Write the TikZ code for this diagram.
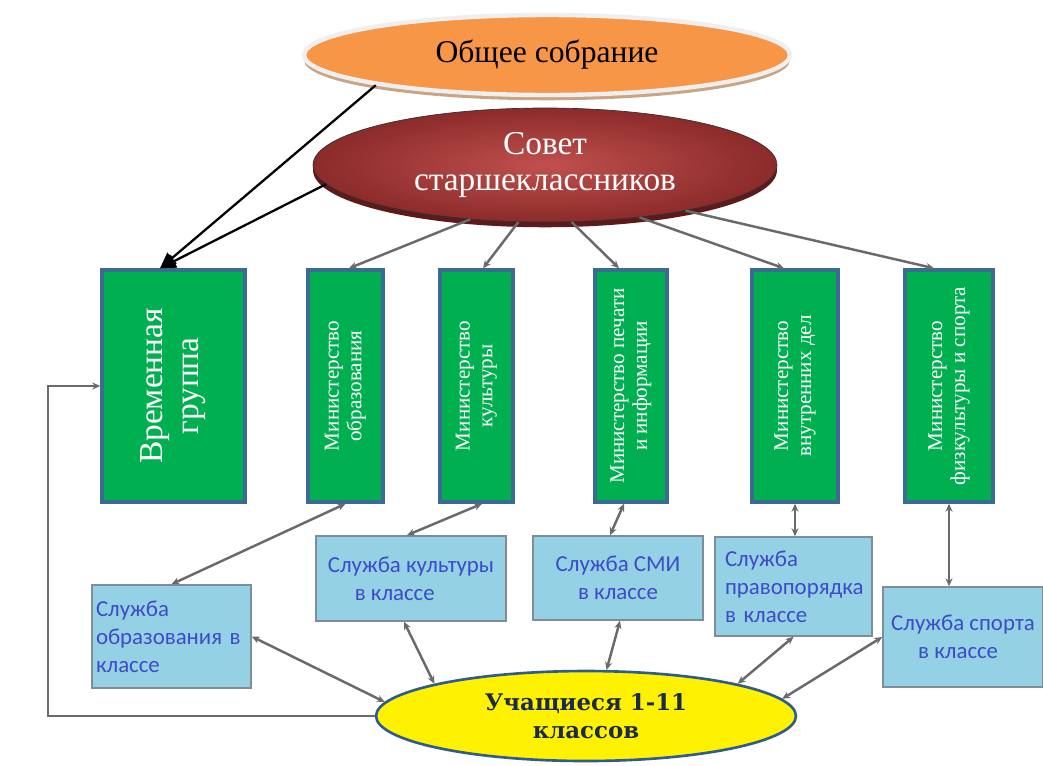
\documentclass[tikz,border=0pt]{standalone}
\usepackage{fontspec}
\setmainfont{Liberation Serif}
\setsansfont{Carlito}
\newfontfamily\slabfont{DejaVu Serif}
\usetikzlibrary{arrows.meta,shadows,calc,shapes.geometric}
\definecolor{gfill}{HTML}{00B050}
\definecolor{gborder}{HTML}{3B6A94}
\definecolor{sfill}{HTML}{94D1E4}
\definecolor{sborder}{HTML}{7E8E96}
\definecolor{stext}{HTML}{3D4BC8}
\definecolor{lgray}{HTML}{6A6A6A}
\definecolor{ofill}{HTML}{F79646}
\definecolor{orim}{HTML}{EFEFEF}
\definecolor{otan}{HTML}{C9A584}
\definecolor{rinner}{HTML}{C0504D}
\definecolor{router}{HTML}{8B2B2A}
\definecolor{rshadow}{HTML}{5C1A1A}
\definecolor{yborder}{HTML}{2E5C8E}
\definecolor{ytext}{HTML}{1B2A4A}
\newcommand{\vtext}[1]{\rotatebox{90}{\begin{tabular}{@{}c@{}}#1\end{tabular}}}
\begin{document}
\begin{tikzpicture}[x=0.02cm, y=-0.02cm,
    >={Stealth[length=4.5pt,width=4pt]},
    gbox/.style={draw=gborder, line width=2pt, fill=gfill, text=white,
      minimum height=4.64cm, inner sep=0pt, font=\rmfamily\fontsize{12}{13}\selectfont},
    sbox/.style={draw=sborder, line width=0.9pt, fill=sfill, text=stext,
      inner sep=0pt, font=\sffamily\fontsize{13}{16}\selectfont},
    gline/.style={draw=lgray, line width=1.4pt},
    blackarrow/.style={draw=black, line width=1.3pt, -{Triangle[length=9pt,width=8pt]}}]
  \fill[white] (0,0) rectangle (1043,765);
  \useasboundingbox (0,0) rectangle (1043,765);

  % top ellipses
  \node[ellipse, fill=ofill, draw=orim, line width=2.5pt, inner sep=0pt,
    minimum width=9.72cm, minimum height=1.6cm,
    drop shadow={shadow xshift=0pt, shadow yshift=-3pt, fill=otan, opacity=1},
    font=\fontsize{18}{20}\selectfont] (sobranie) at (547,55) {Общее собрание};
  \node[ellipse, shading=radial, inner color=rinner, outer color=router,
    draw=black!80, inner sep=0pt, minimum width=9.28cm, minimum height=2.28cm,
    drop shadow={shadow xshift=0pt, shadow yshift=-3pt, fill=rshadow, opacity=1},
    text=white, align=center, font=\fontsize{19}{20.5}\selectfont]
    (sovet) at (545,165) {Совет\\старшеклассников};

  % ministries
  \node[gbox, minimum width=2.86cm, font=\rmfamily\fontsize{19}{20.5}\selectfont]
    (vremgr) at (173.5,386) {\vtext{Временная\\группа}};
  \node[gbox, minimum width=1.5cm] (minobr) at (345.5,386) {\vtext{Министерство\\образования}};
  \node[gbox, minimum width=1.46cm] (minkult) at (476.5,386) {\vtext{Министерство\\культуры}};
  \node[gbox, minimum width=1.44cm] (minpech) at (631,386) {\vtext{Министерство печати\\и информации}};
  \node[gbox, minimum width=1.72cm] (minvd) at (795,386) {\vtext{Министерство\\внутренних дел}};
  \node[gbox, minimum width=1.76cm] (minsport) at (949,386) {\vtext{Министерство\\физкультуры и спорта}};

  % class services
  \node[sbox, minimum width=3.18cm, minimum height=2.06cm, align=left,
    text width=3.02cm] (sluobr) at (171.5,636.5) {Служба\\образования в\\классе};
  \node[sbox, minimum width=3.8cm, minimum height=1.7cm, align=left]
    (slukult) at (411,578.5) {Служба культуры\\\hspace*{0.54cm}в классе};
  \node[sbox, minimum width=3.4cm, minimum height=1.68cm, align=center]
    (slusmi) at (618,578) {Служба СМИ\\в классе};
  \node[sbox, minimum width=3.14cm, minimum height=1.98cm, align=left,
    text width=2.74cm] (slupravo) at (793.5,586.5) {Служба\\правопорядка\\в классе};
  \node[sbox, minimum width=3.2cm, minimum height=2.0cm, align=left]
    (sluspor) at (963,637) {Служба спорта\\\hspace*{0.54cm}в классе};

  % pupils
  \node[ellipse, fill=yellow, draw=yborder, line width=1.5pt, inner sep=0pt,
    minimum width=8.4cm, minimum height=1.8cm, text=ytext, align=center,
    font=\slabfont\bfseries\fontsize{13}{16}\selectfont]
    (uch) at (586,716) {Учащиеся 1-11\\классов};

  % arrows from the top
  \draw[blackarrow] (sobranie.190) -- ([xshift=-0.27cm]vremgr.north);
  \draw[blackarrow] (sovet.185) -- ([xshift=-0.27cm]vremgr.north);
  \draw[gline,->] (sovet.216) -- ([xshift=0.07cm]minobr.north);
  \draw[gline,->] (sovet.245) -- ([xshift=0.13cm]minkult.north);
  \draw[gline,->] (sovet.295) -- ([xshift=-0.24cm]minpech.north);
  \draw[gline,->] (sovet.331) -- ([xshift=-0.22cm]minvd.north);
  \draw[gline,->] (sovet.342) -- ([xshift=-0.3cm]minsport.north);

  % ministries and services
  \draw[gline,<->] (minobr.south) -- (sluobr.north);
  \draw[gline,<->] ([xshift=0.11cm]minkult.south) -- ([xshift=-0.08cm]slukult.north);
  \draw[gline,<->] ([xshift=-0.14cm]minpech.south) -- ([xshift=-0.16cm]slusmi.north);
  \draw[gline,<->] (minvd.south) -- (minvd.south |- slupravo.north);
  \draw[gline,<->] (minsport.south) -- (minsport.south |- sluspor.north);

  % services and pupils
  \draw[gline,<->] (sluobr.east) -- (uch.176);
  \draw[gline,<->] ([xshift=-0.14cm]slukult.south) -- (uch.168);
  \draw[gline,<->] ([xshift=0.04cm]slusmi.south) -- (uch.66);
  \draw[gline,<->] (slupravo.south) -- (uch.12);
  \draw[gline,<->] (sluspor.west) -- (uch.5);

  % back to the temporary group
  \coordinate (loop) at (48,719);
  \draw[gline,->] (uch.west) -- (uch.west -| loop) |- (vremgr.west);
\end{tikzpicture}
\end{document}
